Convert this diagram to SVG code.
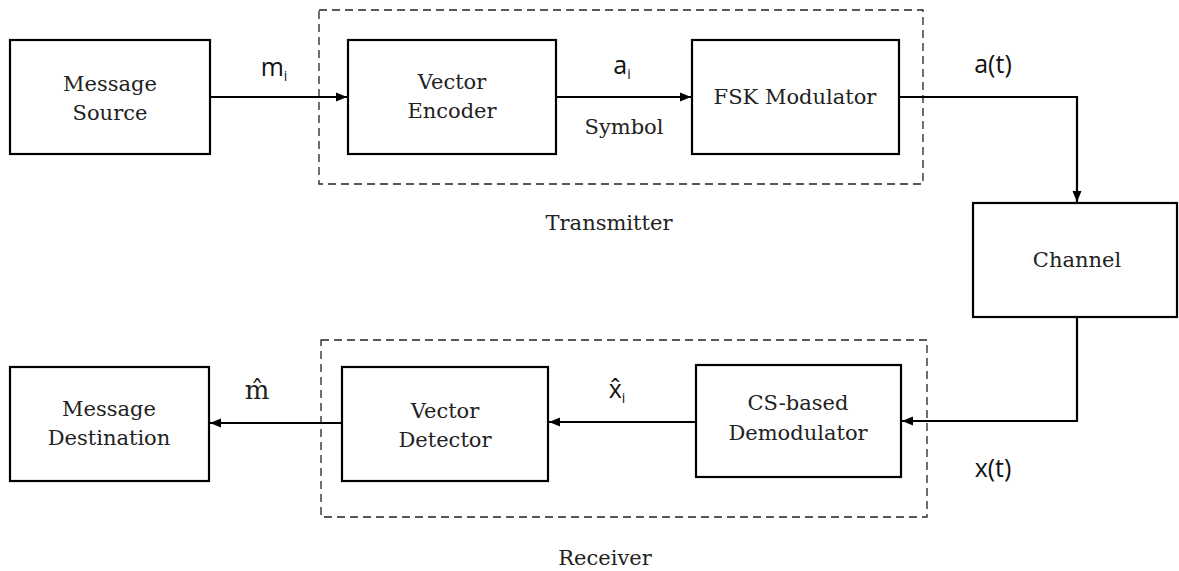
<svg xmlns="http://www.w3.org/2000/svg" width="1179" height="571" viewBox="0 0 1179 571">
<style>
.box{fill:#fff;stroke:#000;stroke-width:2.2}
.dash{fill:none;stroke:#222;stroke-width:1.3;stroke-dasharray:8,5}
.t{font-family:"DejaVu Serif","Liberation Serif",serif;font-size:21px;fill:#222;text-anchor:middle}
.s{font-family:"Open Sans","Liberation Sans",sans-serif;font-size:25px;fill:#111;text-anchor:middle}
.sub{font-size:14px}
.ln{fill:none;stroke:#000;stroke-width:2.2}
</style>
<defs>
<marker id="ah" markerWidth="12" markerHeight="12" refX="11" refY="6" orient="auto" markerUnits="userSpaceOnUse">
<path d="M0,1.5 L11,6 L0,10.5 Z" fill="#000"/>
</marker>
</defs>
<g id="transmitter">
<rect class="dash" x="319" y="10" width="604" height="174"/>
<text class="t" x="609" y="230">Transmitter</text>
</g>
<g id="receiver">
<rect class="dash" x="321" y="340" width="606" height="177"/>
<text class="t" x="605" y="565">Receiver</text>
</g>
<g id="connectors">
<line class="ln" x1="211" y1="97" x2="347" y2="97" marker-end="url(#ah)"/>
<line class="ln" x1="557" y1="97" x2="691" y2="97" marker-end="url(#ah)"/>
<polyline class="ln" points="900,97 1077,97 1077,202" marker-end="url(#ah)"/>
<polyline class="ln" points="1077,318 1077,421 902,421" marker-end="url(#ah)"/>
<line class="ln" x1="695" y1="422" x2="549" y2="422" marker-end="url(#ah)"/>
<line class="ln" x1="341" y1="423" x2="210" y2="423" marker-end="url(#ah)"/>
<text class="s" x="274" y="76">m<tspan class="sub" dy="5">i</tspan></text>
<text class="s" x="622" y="74">a<tspan class="sub" dy="5">i</tspan></text>
<text class="t" x="624" y="134">Symbol</text>
<text class="s" x="993" y="73">a(t)</text>
<text class="s" x="993" y="477">x(t)</text>
<text class="t" x="257" y="399" style="font-size:26px">m̂</text>
<text class="s" x="617" y="398">x̂<tspan class="sub" dy="5">i</tspan></text>
</g>
<g id="message-source">
<rect class="box" x="10" y="40" width="200" height="114"/>
<text class="t" x="110" y="91">Message</text>
<text class="t" x="110" y="120">Source</text>
</g>
<g id="vector-encoder">
<rect class="box" x="348" y="40" width="208" height="114"/>
<text class="t" x="452" y="89">Vector</text>
<text class="t" x="452" y="118">Encoder</text>
</g>
<g id="fsk-modulator">
<rect class="box" x="692" y="40" width="207" height="114"/>
<text class="t" x="795" y="104">FSK Modulator</text>
</g>
<g id="channel">
<rect class="box" x="973" y="203" width="204" height="114"/>
<text class="t" x="1077" y="267">Channel</text>
</g>
<g id="cs-demodulator">
<rect class="box" x="696" y="365" width="205" height="112"/>
<text class="t" x="798" y="410">CS-based</text>
<text class="t" x="798" y="440">Demodulator</text>
</g>
<g id="vector-detector">
<rect class="box" x="342" y="367" width="206" height="114"/>
<text class="t" x="445" y="418">Vector</text>
<text class="t" x="445" y="447">Detector</text>
</g>
<g id="message-destination">
<rect class="box" x="10" y="367" width="199" height="114"/>
<text class="t" x="109" y="416">Message</text>
<text class="t" x="109" y="445">Destination</text>
</g>
</svg>
